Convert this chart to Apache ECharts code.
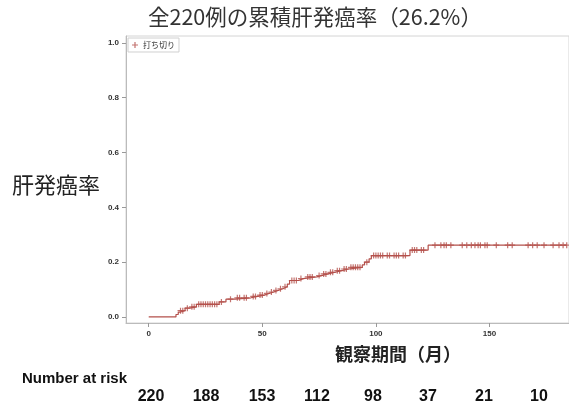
<!DOCTYPE html>
<html><head><meta charset="utf-8">
<script src="https://cdn.jsdelivr.net/npm/echarts@6/dist/echarts.min.js"></script>
<style>html,body{margin:0;padding:0;background:#fff}#c{width:569px;height:408px}</style>
</head><body><div id="c"></div>
<script>
// Step points of cumulative incidence: [month, cumulative rate]
const stepTimes = [0, 12, 13, 14, 16, 18, 21, 31, 34, 38, 45, 48, 51, 53, 55, 57, 59, 61, 62, 66, 68, 74, 76, 79, 82, 85, 88, 94, 95, 97, 98, 115, 123, 184];
const stepValues = [0, 0.009, 0.018, 0.023, 0.032, 0.037, 0.046, 0.055, 0.065, 0.07, 0.075, 0.08, 0.086, 0.091, 0.097, 0.103, 0.11, 0.12, 0.133, 0.14, 0.146, 0.151, 0.157, 0.163, 0.169, 0.175, 0.181, 0.19, 0.2, 0.212, 0.224, 0.244, 0.262, 0.262];
// Censoring times (months)
const censorTimes = [14, 15, 17, 19, 20, 22, 23, 24, 25, 26, 27, 28, 29, 30, 32, 36, 39, 40, 42, 43, 46, 47, 49, 50, 52, 54, 56, 58, 60, 63, 64, 65, 67, 70, 71, 72, 75, 77, 78, 80, 81, 83, 84, 86, 87, 89, 90, 91, 92, 93, 96, 99, 100, 101, 102, 103, 105, 106, 108, 109, 110, 112, 113, 116, 117, 118, 120, 121, 126, 128.6, 130, 131, 133, 138, 140, 142, 143.6, 145, 146, 148, 149, 153, 158, 160, 167, 169, 171, 174, 178, 180.6, 182.4, 184];
const xTicks = [0, 50, 100, 150];
const yTicks = [0, 0.2, 0.4, 0.6, 0.8, 1.0];
const riskNumbers = ['220', '188', '153', '112', '98', '37', '21', '10'];
const titleText = '全220例の累積肝発癌率（26.2%）';
const yTitle = '肝発癌率';
const xTitle = '観察期間（月）';
const riskTitle = 'Number at risk';
const legendName = '打ち切り';

function valueAt(t) {
  let v = 0;
  for (let i = 0; i < stepTimes.length; i++) { if (stepTimes[i] <= t) v = stepValues[i]; }
  return v;
}
const lineData = stepTimes.map((t, i) => [t, stepValues[i]]);
const censorData = censorTimes.map(t => [t, valueAt(t)]);
const col = '#b4504b';
const plus = 'path://M4,0h2v4h4v2h-4v4h-2v-4h-4v-2h4z';
const riskX = [151, 206, 262, 317, 373, 428, 484, 539];

const chart = echarts.init(document.getElementById('c'));
const graphic = [
  {type:'text', left:148, top:6, style:{text:titleText, font:'21.5px "Noto Sans CJK JP"', fill:'#333'}},
  {type:'text', left:12, top:174, style:{text:yTitle, font:'22px "Noto Sans CJK JP"', fill:'#222'}},
  {type:'text', left:335, top:345, style:{text:xTitle, font:'bold 18px "Noto Sans CJK JP"', fill:'#222'}},
  {type:'text', left:22, top:371, style:{text:riskTitle, font:'bold 15px "Liberation Sans"', fill:'#111'}}
].concat(riskNumbers.map((n, i) => ({type:'text', x:riskX[i], y:397, style:{text:n, font:'bold 16px "Liberation Sans"', fill:'#111', align:'center', verticalAlign:'middle'}})));

chart.setOption({
  animation:false,
  backgroundColor:'#fff',
  grid:{left:126, top:36, right:0, bottom:85, show:true, borderColor:'#d4d4d4', borderWidth:1},
  legend:{data:[{name:legendName, icon:plus}], left:128, top:38, orient:'vertical', itemWidth:6, itemHeight:6, itemGap:2,
    padding:[3,4,3,4], borderColor:'#d0d0d0', borderWidth:1, textStyle:{fontSize:8, color:'#333', fontFamily:'Noto Sans CJK JP'}},
  xAxis:{type:'value', min:-10, max:185, splitLine:{show:false},
    axisLine:{show:true, onZero:false, lineStyle:{color:'#bbb'}},
    axisTick:{show:true, customValues:xTicks, length:4, lineStyle:{color:'#999'}},
    axisLabel:{customValues:xTicks, fontSize:8, fontWeight:'bold', color:'#333', margin:7}},
  yAxis:{type:'value', min:-0.022, max:1.025, splitLine:{show:false},
    axisLine:{show:true, onZero:false, lineStyle:{color:'#bbb'}},
    axisTick:{show:true, customValues:yTicks, length:4, lineStyle:{color:'#999'}},
    axisLabel:{customValues:yTicks, fontSize:8, fontWeight:'bold', color:'#333', margin:7, formatter:v=>v.toFixed(1)}},
  graphic:graphic,
  series:[
    {type:'line', step:'end', data:lineData, symbol:'none', lineStyle:{color:col, width:1.2}, silent:true},
    {type:'scatter', name:legendName, data:censorData, symbol:plus, symbolSize:6, itemStyle:{color:col}}
  ]
});
</script></body></html>
